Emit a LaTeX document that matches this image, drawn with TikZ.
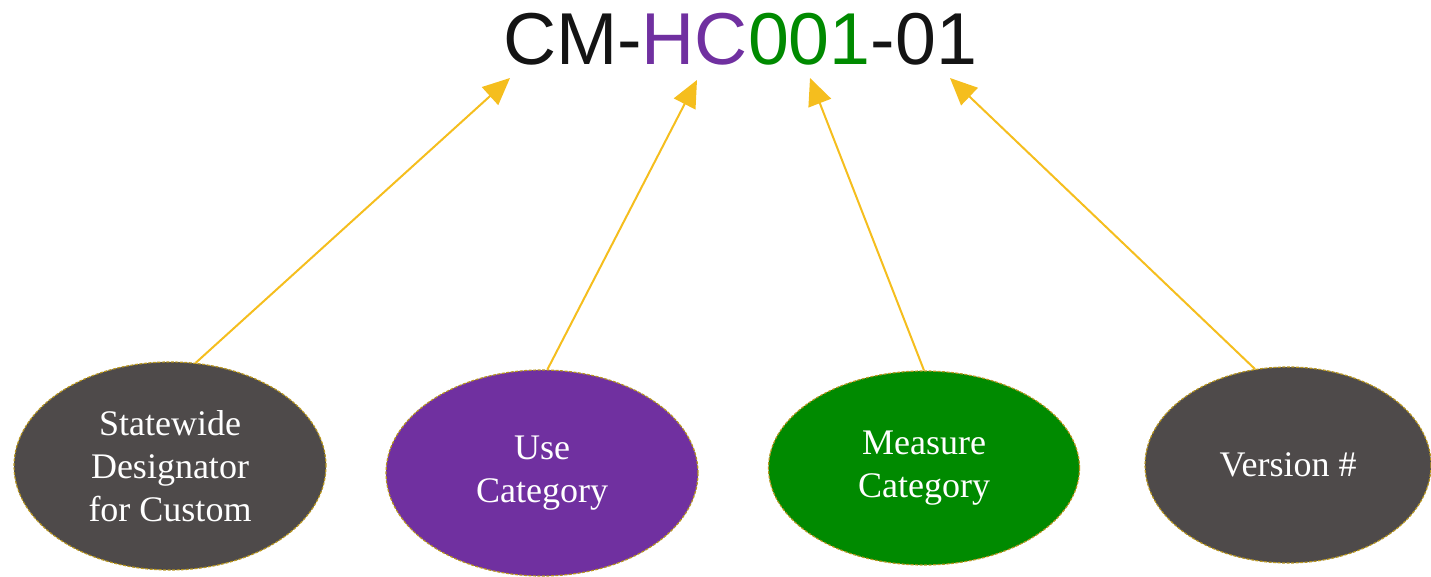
\documentclass[tikz,border=0pt]{standalone}
\usepackage{fontspec}
\setmainfont{Liberation Serif}
\newfontfamily\titlefont{Liberation Sans}
\usetikzlibrary{shapes.geometric,arrows.meta}
\definecolor{darkgrey}{HTML}{4E4A4A}
\definecolor{ucpurple}{HTML}{7030A0}
\definecolor{mcgreen}{HTML}{008A00}
\definecolor{goldline}{HTML}{F5BE1E}
\definecolor{goldborder}{HTML}{B8961E}
\definecolor{titleblack}{HTML}{141414}
\tikzset{
  oval/.style={ellipse, draw=goldborder, line width=1.2pt, dash pattern=on 3pt off 1.5pt,
    inner sep=0pt, text=white, align=center,
    font=\fontsize{36}{43}\selectfont},
  pointer/.style={draw=goldline, line width=2pt,
    -{Triangle[length=27pt,width=24pt]}}
}
\begin{document}
\begin{tikzpicture}[x=1pt,y=-1pt]
\useasboundingbox (0,0) rectangle (1431,577);
\node[anchor=base, inner sep=0pt, font=\titlefont\fontsize{73.5}{80}\selectfont, text=titleblack] (title) at (740,65)
  {CM-\textcolor{ucpurple}{HC}\textcolor{mcgreen}{001}-01};
\node[oval, fill=darkgrey, minimum width=312pt, minimum height=208pt] (e1) at (170,466) {Statewide\\Designator\\for Custom};
\node[oval, fill=ucpurple, minimum width=312pt, minimum height=206pt] (e2) at (542,473) {Use\\Category};
\node[oval, fill=mcgreen, minimum width=311pt, minimum height=194pt] (e3) at (924,468) {Measure\\Category};
\node[oval, fill=darkgrey, minimum width=286pt, minimum height=196pt] (e4) at (1288,465) {Version \#};
\coordinate (t1) at (510,78);
\coordinate (t2) at (697,80);
\coordinate (t3) at (810,78);
\coordinate (t4) at (950,78);
\draw[pointer] (e1.76) -- (t1);
\draw[pointer] (e2.87) -- (t2);
\draw[pointer] (e3.90) -- (t3);
\draw[pointer] (e4.109) -- (t4);
\end{tikzpicture}
\end{document}
